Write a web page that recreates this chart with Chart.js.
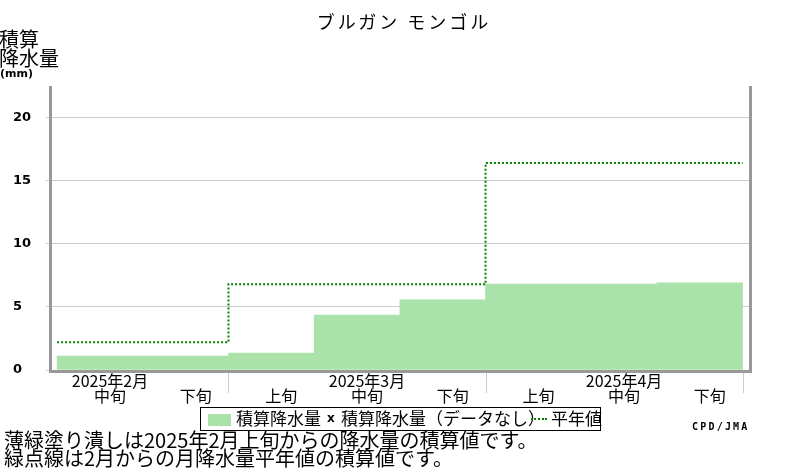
<!DOCTYPE html>
<html>
<head>
<meta charset="utf-8">
<script src="https://cdn.jsdelivr.net/npm/chart.js@4.4.1/dist/chart.umd.min.js"></script>
<style>
  html, body { margin:0; padding:0; background:#fff; }
  #wrap { position:relative; width:800px; height:470px; overflow:hidden; font-family:"Noto Sans CJK JP", sans-serif; color:#000; }
  #cv { position:absolute; left:0; top:0; }
  .abs { position:absolute; white-space:nowrap; }
  #title { left:0; width:808px; top:9px; text-align:center; font-size:18px; letter-spacing:3px; line-height:24px; }
  #ytitle { left:-1px; top:29px; font-size:20px; line-height:19px; }
  #yunit { left:0px; top:67px; font-family:"DejaVu Sans", sans-serif; font-weight:bold; font-size:11px; }
  #legend { left:200px; top:407px; width:399px; height:22px; border:1px solid #000; font-size:17px; }
  #legend .abs { top:-1px; line-height:22px; }
  #lgbox { left:7px; top:6px !important; width:23px; height:12px; background:#aae2aa; }
  #lgx { font-family:"DejaVu Sans", sans-serif; font-weight:bold; font-size:12px; }
  #lgdot { left:330px; top:10px !important; width:16px; height:0; border-top:2px dotted #008000; }
  #notes { left:4px; top:431px; font-size:20px; line-height:18px; }
  #credit { left:692px; top:421px; font-family:"DejaVu Sans Mono", monospace; font-weight:bold; font-size:10px; letter-spacing:2.2px; }
</style>
</head>
<body>
<div id="wrap">
  <canvas id="cv" width="800" height="470"></canvas>
  <div id="title" class="abs">ブルガン モンゴル</div>
  <div id="ytitle" class="abs">積算<br>降水量</div>
  <div id="yunit" class="abs">(mm)</div>
  <div id="legend" class="abs">
    <span id="lgbox" class="abs"></span>
    <span class="abs" style="left:35px">積算降水量</span>
    <span id="lgx" class="abs" style="left:126px">x</span>
    <span class="abs" style="left:140px">積算降水量（データなし）</span>
    <span id="lgdot" class="abs"></span>
    <span class="abs" style="left:350px">平年値</span>
  </div>
  <div id="notes" class="abs">薄緑塗り潰しは2025年2月上旬からの降水量の積算値です。<br>緑点線は2月からの月降水量平年値の積算値です。</div>
  <div id="credit" class="abs">CPD/JMA</div>
</div>
<script>
// ---- data ----
const categories = ['2月中旬','2月下旬','3月上旬','3月中旬','3月下旬','4月上旬','4月中旬','4月下旬'];
const monthLabels = ['2025年2月','','','2025年3月','','','2025年4月',''];
const decadeLabels = ['中旬','下旬','上旬','中旬','下旬','上旬','中旬','下旬'];
const precipValues = [1.1, 1.1, 1.35, 4.35, 5.55, 6.8, 6.8, 6.9];
const normalValues = [2.2, 6.8, 16.4, 16.4];   // cumulative monthly normals (Feb, Mar, Apr, end)
const normalIndex = [0, 2, 5, 8];              // category index where each normal step begins
const monthBoundaries = [2, 5, 8];
const yTicks = [0, 5, 10, 15, 20];

const barData = precipValues.map((v, i) => ({ x: i + 0.5, y: v }));
const normalData = normalValues.map((v, i) => ({ x: normalIndex[i], y: v }));

const framePlugin = {
  id: 'frame',
  afterDraw(chart) {
    const { ctx, chartArea: a } = chart;
    const xs = chart.scales.x;
    ctx.save();
    ctx.strokeStyle = '#cccccc';
    ctx.lineWidth = 1;
    monthBoundaries.forEach(b => {
      const px = Math.round(xs.getPixelForValue(b)) + 0.5;
      ctx.beginPath();
      ctx.moveTo(px, a.bottom + 2);
      ctx.lineTo(px, a.bottom + 23);
      ctx.stroke();
    });
    ctx.strokeStyle = '#999999';
    ctx.lineWidth = 3;
    ctx.beginPath();
    ctx.moveTo(a.left - 1.5, a.top);
    ctx.lineTo(a.left - 1.5, a.bottom + 1.5);
    ctx.lineTo(a.right + 1.5, a.bottom + 1.5);
    ctx.lineTo(a.right + 1.5, a.top);
    ctx.stroke();
    ctx.restore();
  }
};

new Chart(document.getElementById('cv'), {
  data: {
    datasets: [
      {
        type: 'line',
        label: '平年値',
        data: normalData,
        stepped: 'before',
        borderColor: '#008000',
        borderWidth: 2,
        borderDash: [2, 2],
        pointRadius: 0,
        fill: false,
        order: 0
      },
      {
        type: 'bar',
        label: '積算降水量',
        data: barData,
        backgroundColor: '#aae2aa',
        borderWidth: 0,
        categoryPercentage: 1.0,
        barPercentage: 1.0,
        order: 1
      }
    ]
  },
  options: {
    responsive: false,
    animation: false,
    devicePixelRatio: 1,
    layout: { padding: { left: 13, top: 86, right: 51, bottom: 55 } },
    plugins: { legend: { display: false }, tooltip: { enabled: false }, title: { display: false } },
    scales: {
      x: {
        type: 'linear',
        offset: false,
        min: -0.06,
        max: 8.075,
        afterBuildTicks(scale) { scale.ticks = categories.map((c, i) => ({ value: i + 0.5 })); },
        afterFit(scale) { scale.height = 45; },
        grid: { display: false, drawTicks: false },
        border: { display: false },
        ticks: {
          autoSkip: false,
          maxRotation: 0,
          padding: 3,
          labelOffset: 10,
          color: '#000',
          font: { family: '"Noto Sans CJK JP", sans-serif', size: 16, lineHeight: 0.95 },
          callback(value, index) { return [monthLabels[index] || ' ', decadeLabels[index]]; }
        }
      },
      y: {
        type: 'linear',
        min: 0,
        max: 22.5,
        afterBuildTicks(scale) { scale.ticks = yTicks.map(v => ({ value: v })); },
        afterFit(scale) { scale.width = 39; },
        grid: { color: '#cccccc', lineWidth: 1, tickLength: 6 },
        border: { display: false },
        ticks: {
          crossAlign: 'far',
          color: '#000',
          font: { family: '"DejaVu Sans", sans-serif', size: 13, weight: 'bold' },
          callback(v) { return String(v); }
        }
      }
    }
  },
  plugins: [framePlugin]
});
</script>
</body>
</html>
